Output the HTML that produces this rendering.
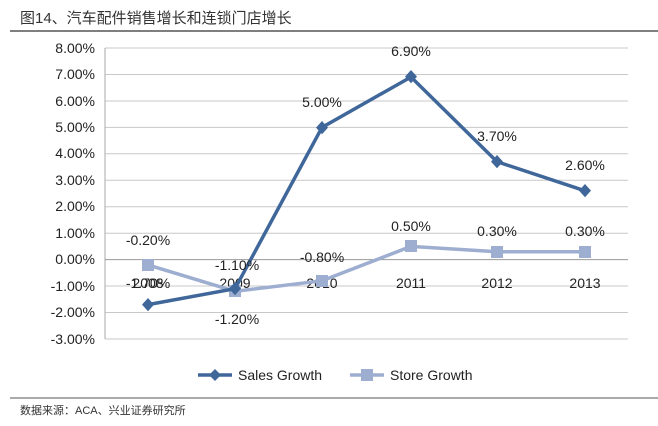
<!DOCTYPE html><html><head><meta charset="utf-8"><style>body{margin:0;background:#fff}svg text{font-family:"Liberation Sans","Noto Sans CJK SC",sans-serif}</style></head><body>
<svg width="658" height="421" xmlns="http://www.w3.org/2000/svg">
<text x="20" y="23" font-size="15" fill="#333">图14、汽车配件销售增长和连锁门店增长</text>
<line x1="10" y1="31" x2="658" y2="31" stroke="#555" stroke-width="1.5"/>
<g stroke="#c8c8c8" stroke-width="1">
<line x1="105" y1="48" x2="628" y2="48"/><line x1="105" y1="74.5" x2="628" y2="74.5"/><line x1="105" y1="101" x2="628" y2="101"/><line x1="105" y1="127.4" x2="628" y2="127.4"/><line x1="105" y1="153.8" x2="628" y2="153.8"/><line x1="105" y1="180.3" x2="628" y2="180.3"/><line x1="105" y1="206.7" x2="628" y2="206.7"/><line x1="105" y1="233.2" x2="628" y2="233.2"/><line x1="105" y1="286" x2="628" y2="286"/><line x1="105" y1="312.5" x2="628" y2="312.5"/><line x1="105" y1="339" x2="628" y2="339"/>
<line x1="105" y1="48" x2="105" y2="339" stroke="#aaa"/>
<line x1="105" y1="259.6" x2="628" y2="259.6" stroke="#999"/>
</g>
<g font-size="14" fill="#222" text-anchor="end">
<text x="95" y="53">8.00%</text><text x="95" y="79">7.00%</text><text x="95" y="106">6.00%</text><text x="95" y="132">5.00%</text><text x="95" y="158">4.00%</text><text x="95" y="185">3.00%</text><text x="95" y="211">2.00%</text><text x="95" y="238">1.00%</text><text x="95" y="264">0.00%</text><text x="95" y="291">-1.00%</text><text x="95" y="317">-2.00%</text><text x="95" y="344">-3.00%</text>
</g>
<g font-size="14" fill="#222" text-anchor="middle">
<text x="148" y="288">2008</text><text x="235" y="288">2009</text><text x="322" y="288">2010</text><text x="411" y="288">2011</text><text x="497" y="288">2012</text><text x="585" y="288">2013</text>
</g>
<polyline fill="none" stroke="#9daed0" stroke-width="3.5" points="148,264.9 235,291.3 322,280.8 411,246.4 497,251.7 585,251.7"/>
<g fill="#9daed0"><rect x="142" y="259" width="12" height="12"/><rect x="229" y="285" width="12" height="12"/><rect x="316" y="275" width="12" height="12"/><rect x="405" y="240" width="12" height="12"/><rect x="491" y="246" width="12" height="12"/><rect x="579" y="246" width="12" height="12"/></g>
<polyline fill="none" stroke="#40679a" stroke-width="3.5" points="148,304.6 235,288.7 322,127.4 411,77 497,161.7 585,190.8"/>
<g fill="#40679a">
<path d="M148,298 l6,6.6 -6,6.6 -6,-6.6z"/><path d="M235,282 l6,6.6 -6,6.6 -6,-6.6z"/><path d="M322,121 l6,6.6 -6,6.6 -6,-6.6z"/><path d="M411,70 l6,6.6 -6,6.6 -6,-6.6z"/><path d="M497,155 l6,6.6 -6,6.6 -6,-6.6z"/><path d="M585,184 l6,6.6 -6,6.6 -6,-6.6z"/></g>
<g font-size="14" fill="#222" text-anchor="middle">
<text x="148" y="245">-0.20%</text><text x="148" y="288">-1.70%</text><text x="237" y="270">-1.10%</text><text x="237" y="324">-1.20%</text><text x="322" y="262">-0.80%</text><text x="322" y="107">5.00%</text><text x="411" y="56">6.90%</text><text x="411" y="231">0.50%</text><text x="497" y="141">3.70%</text><text x="497" y="236">0.30%</text><text x="585" y="170">2.60%</text><text x="585" y="236">0.30%</text>
</g>
<line x1="198" y1="375" x2="232" y2="375" stroke="#40679a" stroke-width="3.5"/><path d="M215,369 l6,6 -6,6 -6,-6z" fill="#40679a"/>
<text x="238" y="380" font-size="14" fill="#222">Sales Growth</text>
<line x1="350" y1="375" x2="384" y2="375" stroke="#9daed0" stroke-width="3.5"/><rect x="361" y="369" width="12" height="12" fill="#9daed0"/>
<text x="390" y="380" font-size="14" fill="#222">Store Growth</text>
<line x1="10" y1="398" x2="658" y2="398" stroke="#555" stroke-width="1"/>
<text x="20" y="414" font-size="11" fill="#333">数据来源：ACA、兴业证券研究所</text>
</svg></body></html>
